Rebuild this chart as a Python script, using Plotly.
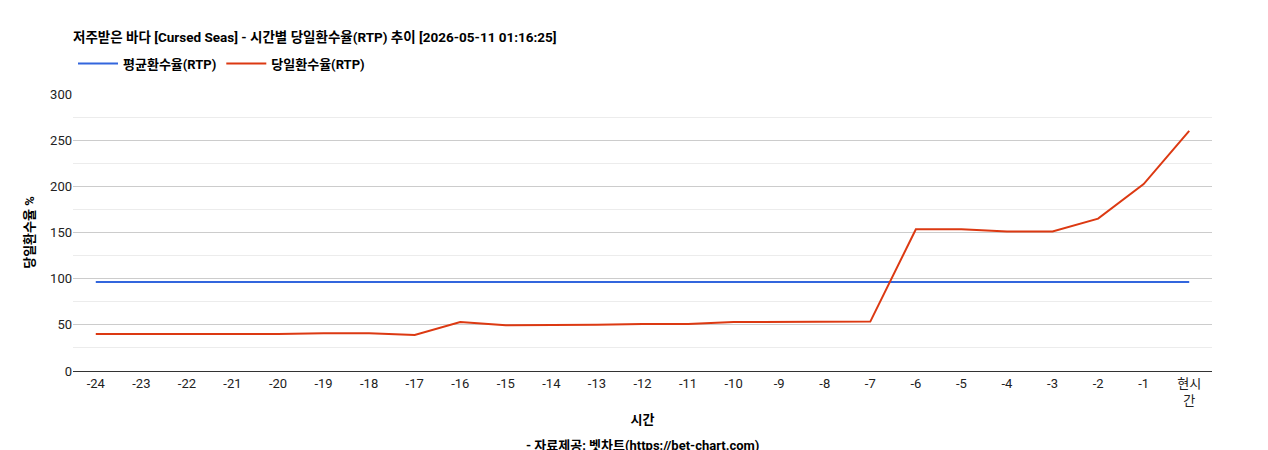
import plotly.graph_objects as go

categories = ["-24","-23","-22","-21","-20","-19","-18","-17","-16","-15","-14","-13",
              "-12","-11","-10","-9","-8","-7","-6","-5","-4","-3","-2","-1","현시<br>간"]
avg_rtp = [96.3] * len(categories)
daily_rtp = [40, 40, 40, 40, 40, 41, 41, 39, 53, 49.5, 49.5, 50, 51, 51, 53, 53, 53.5, 53.5,
             153.5, 153.5, 151, 151, 165, 202.5, 260]

fig = go.Figure()
fig.add_trace(go.Scatter(x=categories, y=avg_rtp, mode="lines", name="<b>평균환수율(RTP)</b>",
                         line=dict(color="#3366dd", width=2)))
fig.add_trace(go.Scatter(x=categories, y=daily_rtp, mode="lines", name="<b>당일환수율(RTP)</b>",
                         line=dict(color="#dc3912", width=2)))
fig.update_layout(
    width=1268, height=450, paper_bgcolor="white", plot_bgcolor="white",
    font=dict(family="Roboto, Noto Sans CJK KR, sans-serif", size=13, color="#222"),
    margin=dict(l=65, r=64, t=86, b=87, autoexpand=False),
    title=dict(text="<b>저주받은 바다 [Cursed Seas] - 시간별 당일환수율(RTP) 추이 [2026-05-11 01:16:25]</b>",
               xref="paper", x=0, xanchor="left", yref="container", y=0.935, yanchor="middle",
               pad=dict(l=0), font=dict(size=13.5, color="#000")),
    legend=dict(orientation="h", x=0, xanchor="left", y=1.11, yanchor="middle",
                font=dict(size=13, color="#000"), itemwidth=40),
    showlegend=True,
    xaxis=dict(type="category", range=[-0.5, 24.5], showgrid=False, showline=True, linecolor="#333",
               ticks="", tickfont=dict(size=13, color="#222"), automargin=False,
               title=dict(text="<b>시간</b>", font=dict(size=13, color="#000"), standoff=8)),
    yaxis=dict(range=[0, 300], dtick=50, gridcolor="#cccccc", zeroline=False, automargin=False,
               tickfont=dict(size=13, color="#222"),
               minor=dict(dtick=25, showgrid=True, gridcolor="#ececec"),
               title=dict(text="<b>당일환수율 %</b>", font=dict(size=13, color="#000"), standoff=12)),
)
fig.add_annotation(text="<b>- 자료제공: 벳차트(https://bet-chart.com)</b>", xref="paper", yref="paper",
                   x=0.5, y=-0.27, showarrow=False, yanchor="middle", font=dict(size=13, color="#000"))
fig.write_html("out.html")
